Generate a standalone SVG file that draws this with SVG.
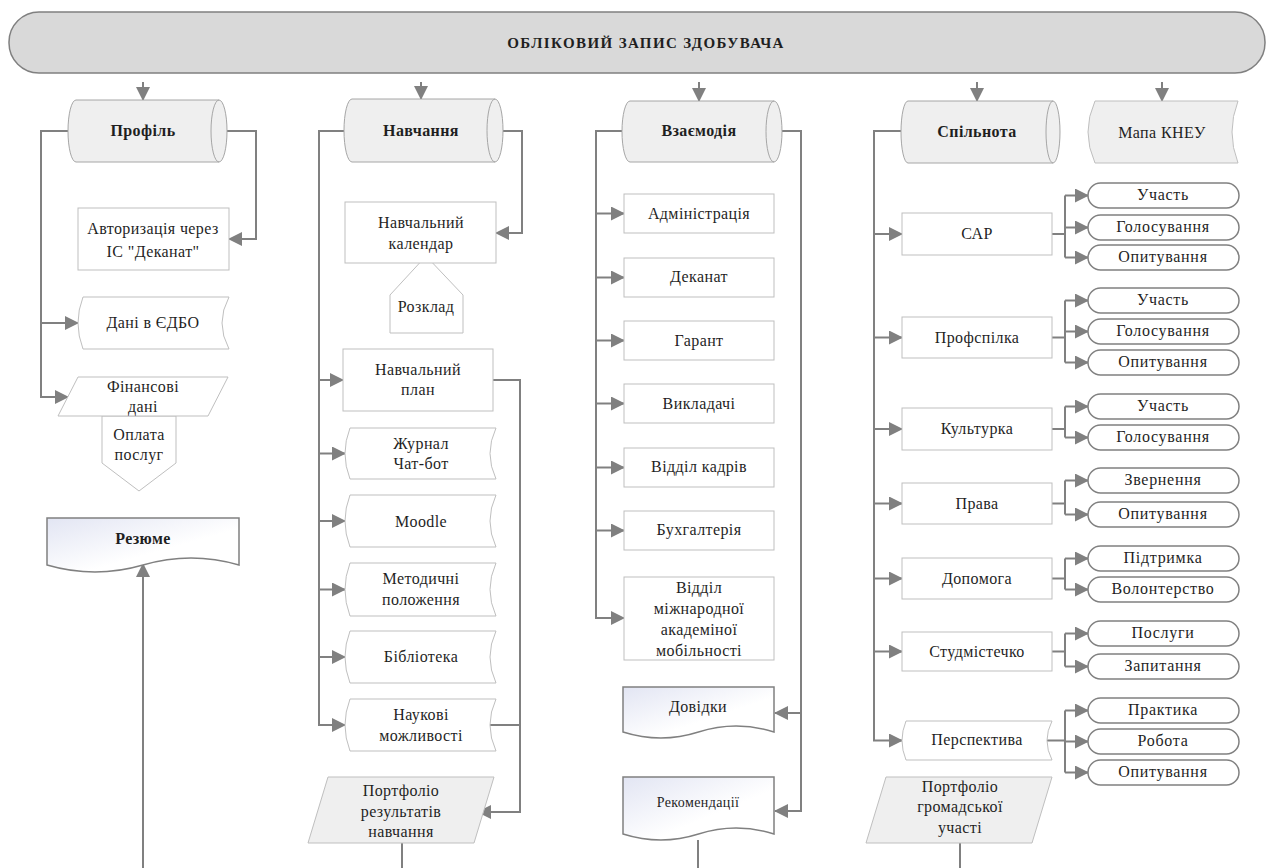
<svg xmlns="http://www.w3.org/2000/svg" width="1268" height="868" viewBox="0 0 1268 868">
<defs>
<marker id="ah" viewBox="0 0 14 14" refX="13" refY="7" markerWidth="14" markerHeight="14" markerUnits="userSpaceOnUse" orient="auto"><path d="M0,0 L14,7 L0,14 Z" fill="#808080"/></marker>
<linearGradient id="g" x1="0" y1="0" x2="1" y2="1"><stop offset="0" stop-color="#e2e5f3"/><stop offset="0.6" stop-color="#ffffff"/></linearGradient>
<style>
.c{fill:none;stroke:#808080;stroke-width:2}
.a{fill:none;stroke:#808080;stroke-width:2;marker-end:url(#ah)}
.box{fill:#fff;stroke:#bfbfbf;stroke-width:1}
.cyl{fill:#efefef;stroke:#a6a6a6;stroke-width:1}
.in{fill:none;stroke:#a6a6a6;stroke-width:1}
.pill{fill:#fff;stroke:#808080;stroke-width:1.5}
.doc{fill:url(#g);stroke:#808080;stroke-width:1.5}
.gr{fill:#efefef;stroke:#bfbfbf;stroke-width:1}
text{font-family:'Liberation Serif','DejaVu Serif',serif}
.t{font-size:16px;fill:#1f1f1f;text-anchor:middle;letter-spacing:0.4px}
.b{font-weight:bold}
.s{font-size:16px;letter-spacing:0.7px}
.r{font-size:14px}
</style>
</defs>

<g id="banner">
<rect x="9" y="12" width="1256" height="61" rx="30" fill="#d9d9d9" stroke="#808080" stroke-width="1.5"/>
<text class="t b" x="646" y="48" font-family="Liberation Serif, serif" style="letter-spacing:1.4px;font-size:15px">ОБЛІКОВИЙ ЗАПИС ЗДОБУВАЧА</text>
</g>

<g id="connectors">
<path class="a" d="M143,82 V100"/>
<path class="a" d="M421,82 V99"/>
<path class="a" d="M699,82 V101"/>
<path class="a" d="M977,82 V101"/>
<path class="a" d="M1162,82 V101"/>
<path class="a" d="M68,131 H41 V397 H68"/>
<path class="a" d="M41,323 H78"/>
<path class="a" d="M218,131 H256 V239 H229"/>
<path class="a" d="M143,868 V564"/>
<path class="a" d="M344,131 H319 V725 H345"/>
<path class="a" d="M319,380 H343"/>
<path class="a" d="M319,453.5 H345"/>
<path class="a" d="M319,521 H345"/>
<path class="a" d="M319,589.5 H345"/>
<path class="a" d="M319,657 H345"/>
<path class="a" d="M495,131 H522 V233 H496"/>
<path class="a" d="M493,380 H520 V812 H478"/>
<path class="c" d="M490,725 H520"/>
<path class="c" d="M402,843 V868"/>
<path class="a" d="M623,131 H596 V618 H624"/>
<path class="a" d="M596,213.5 H624"/>
<path class="a" d="M596,277.5 H624"/>
<path class="a" d="M596,340.5 H624"/>
<path class="a" d="M596,403.5 H624"/>
<path class="a" d="M596,467.5 H624"/>
<path class="a" d="M596,530.5 H624"/>
<path class="a" d="M774,131 H801 V811 H775"/>
<path class="a" d="M801,713 H775"/>
<path class="c" d="M698,840 V868"/>
<path class="a" d="M901,131 H874 V740.5 H902"/>
<path class="a" d="M874,234 H902"/>
<path class="a" d="M874,337.5 H902"/>
<path class="a" d="M874,429 H902"/>
<path class="a" d="M874,503.5 H902"/>
<path class="a" d="M874,578.5 H902"/>
<path class="a" d="M874,651.5 H902"/>
<path class="c" d="M960,843 V868"/>
<path class="c" d="M1052,234 H1065 M1065,195.5 V257.5"/>
<path class="a" d="M1065,195.5 H1088"/><path class="a" d="M1065,227.5 H1088"/><path class="a" d="M1065,257.5 H1088"/>
<path class="c" d="M1052,337.5 H1065 M1065,300.5 V362.5"/>
<path class="a" d="M1065,300.5 H1088"/><path class="a" d="M1065,331.5 H1088"/><path class="a" d="M1065,362.5 H1088"/>
<path class="c" d="M1052,429 H1065 M1065,406.5 V437.5"/>
<path class="a" d="M1065,406.5 H1088"/><path class="a" d="M1065,437.5 H1088"/>
<path class="c" d="M1052,503.5 H1065 M1065,480.5 V514.5"/>
<path class="a" d="M1065,480.5 H1088"/><path class="a" d="M1065,514.5 H1088"/>
<path class="c" d="M1052,578.5 H1065 M1065,558.5 V589.5"/>
<path class="a" d="M1065,558.5 H1088"/><path class="a" d="M1065,589.5 H1088"/>
<path class="c" d="M1052,651.5 H1065 M1065,633.5 V666.5"/>
<path class="a" d="M1065,633.5 H1088"/><path class="a" d="M1065,666.5 H1088"/>
<path class="c" d="M1047,740.5 H1065 M1065,710.5 V772.5"/>
<path class="a" d="M1065,710.5 H1088"/><path class="a" d="M1065,741.5 H1088"/><path class="a" d="M1065,772.5 H1088"/>
</g>

<g id="profil">
<path class="cyl" d="M76,100 H219 A8,31 0 0 1 219,162 H76 A8,31 0 0 1 76,100 Z"/>
<path class="in" d="M219,100 A8,31 0 0 0 219,162"/>
<text class="t b" x="143" y="136">Профіль</text>
</g>
<g id="avtoryzatsiia">
<rect class="box" x="78" y="208" width="151" height="62"/>
<text class="t" x="153" y="234">Авторизація через</text>
<text class="t" x="153" y="257">ІС "Деканат"</text>
</g>
<g id="edbo">
<path class="box" d="M83,297 H229 Q215,323 229,349 H83 Q73,323 83,297 Z"/>
<text class="t" x="153" y="328">Дані в ЄДБО</text>
</g>
<g id="oplata">
<polygon class="box" points="102,416 176,416 176,463 139,491 102,463"/>
<text class="t" x="139" y="440">Оплата</text>
<text class="t" x="139" y="460">послуг</text>
</g>
<g id="finansovi">
<polygon class="box" points="78,377 228,377 208,416 58,416"/>
<text class="t" x="143" y="392">Фінансові</text>
<text class="t" x="143" y="412">дані</text>
</g>
<g id="rezyume">
<path class="doc" d="M47,518 H239 V565 Q191,551 143,565 T47,565 Z"/>
<text class="t b" x="143" y="544">Резюме</text>
</g>

<g id="navchannia">
<path class="cyl" d="M352,99 H495 A8,31.5 0 0 1 495,162 H352 A8,31.5 0 0 1 352,99 Z"/>
<path class="in" d="M495,99 A8,31.5 0 0 0 495,162"/>
<text class="t b" x="421" y="136">Навчання</text>
</g>
<g id="rozklad">
<polygon class="box" points="390,333 390,295 426,256 463,295 463,333"/>
<text class="t" x="426" y="312">Розклад</text>
</g>
<g id="kalendar">
<rect class="box" x="345" y="202" width="151" height="61"/>
<text class="t" x="421" y="228">Навчальний</text>
<text class="t" x="421" y="249">календар</text>
</g>
<g id="plan">
<rect class="box" x="343" y="349" width="150" height="62"/>
<text class="t" x="418" y="375">Навчальний</text>
<text class="t" x="418" y="395">план</text>
</g>
<g id="zhurnal">
<path class="box" d="M350,428 H496 Q484,453.5 496,479 H350 Q340,453.5 350,428 Z"/>
<text class="t" x="421" y="449">Журнал</text>
<text class="t" x="421" y="469">Чат-бот</text>
</g>
<g id="moodle">
<path class="box" d="M350,495 H496 Q484,521 496,547 H350 Q340,521 350,495 Z"/>
<text class="t" x="421" y="527">Moodle</text>
</g>
<g id="metodychni">
<path class="box" d="M350,563 H496 Q484,589.5 496,616 H350 Q340,589.5 350,563 Z"/>
<text class="t" x="421" y="584">Методичні</text>
<text class="t" x="421" y="605">положення</text>
</g>
<g id="biblioteka">
<path class="box" d="M350,631 H496 Q484,657 496,683 H350 Q340,657 350,631 Z"/>
<text class="t" x="421" y="662">Бібліотека</text>
</g>
<g id="naukovi">
<path class="box" d="M350,699 H496 Q484,725 496,751 H350 Q340,725 350,699 Z"/>
<text class="t" x="421" y="720">Наукові</text>
<text class="t" x="421" y="741">можливості</text>
</g>
<g id="portfolio-navch">
<polygon class="gr" points="328,777 494,777 474,843 308,843"/>
<text class="t" x="401" y="796">Портфоліо</text>
<text class="t" x="401" y="817">результатів</text>
<text class="t" x="401" y="837">навчання</text>
</g>

<g id="vzaiemodiia">
<path class="cyl" d="M630,101 H774 A8,30.5 0 0 1 774,162 H630 A8,30.5 0 0 1 630,101 Z"/>
<path class="in" d="M774,101 A8,30.5 0 0 0 774,162"/>
<text class="t b" x="699" y="136">Взаємодія</text>
</g>
<g id="administratsiia"><rect class="box" x="624" y="194" width="150" height="39"/><text class="t" x="699" y="219">Адміністрація</text></g>
<g id="dekanat"><rect class="box" x="624" y="258" width="150" height="39"/><text class="t" x="699" y="282">Деканат</text></g>
<g id="garant"><rect class="box" x="624" y="321" width="150" height="39"/><text class="t" x="699" y="346">Гарант</text></g>
<g id="vykladachi"><rect class="box" x="624" y="384" width="150" height="39"/><text class="t" x="699" y="409">Викладачі</text></g>
<g id="viddil-kadriv"><rect class="box" x="624" y="448" width="150" height="39"/><text class="t" x="699" y="472">Відділ кадрів</text></g>
<g id="bukhgalteriia"><rect class="box" x="624" y="511" width="150" height="39"/><text class="t" x="699" y="535">Бухгалтерія</text></g>
<g id="mobilnist">
<rect class="box" x="624" y="577" width="150" height="83"/>
<text class="t" x="699" y="593">Відділ</text>
<text class="t" x="699" y="614">міжнародної</text>
<text class="t" x="699" y="635">академіної</text>
<text class="t" x="699" y="656">мобільності</text>
</g>
<g id="dovidky">
<path class="doc" d="M623,687 H774 V732 Q736,720 698.5,732 T623,732 Z"/>
<text class="t" x="698" y="712">Довідки</text>
</g>
<g id="rekomendatsii">
<path class="doc" d="M623,777 H774 V834 Q736,822 698.5,834 T623,834 Z"/>
<text class="t r" x="698" y="807">Рекомендації</text>
</g>

<g id="spilnota">
<path class="cyl" d="M908,101 H1053 A7,31 0 0 1 1053,163 H908 A7,31 0 0 1 908,101 Z"/>
<path class="in" d="M1053,101 A7,31 0 0 0 1053,163"/>
<text class="t b" x="977" y="137">Спільнота</text>
</g>
<g id="mapa">
<path class="gr" d="M1095,101 H1238 Q1226,132 1238,163 H1095 Q1081,132 1095,101 Z"/>
<text class="t" x="1162" y="138">Мапа КНЕУ</text>
</g>
<g id="sar"><rect class="box" x="902" y="213" width="150" height="42"/><text class="t" x="977" y="239">САР</text></g>
<g id="profspilka"><rect class="box" x="902" y="317" width="150" height="41"/><text class="t" x="977" y="343">Профспілка</text></g>
<g id="kulturka"><rect class="box" x="902" y="408" width="150" height="42"/><text class="t" x="977" y="434">Культурка</text></g>
<g id="prava"><rect class="box" x="902" y="483" width="150" height="41"/><text class="t" x="977" y="509">Права</text></g>
<g id="dopomoga"><rect class="box" x="902" y="558" width="150" height="41"/><text class="t" x="977" y="584">Допомога</text></g>
<g id="studmistechko"><rect class="box" x="902" y="632" width="150" height="39"/><text class="t" x="977" y="657">Студмістечко</text></g>
<g id="perspektyva">
<path class="box" d="M906,721 H1052 Q1042,740.5 1052,760 H906 Q898,740.5 906,721 Z"/>
<text class="t" x="977" y="745">Перспектива</text>
</g>
<g id="portfolio-gromad">
<polygon class="gr" points="886,777 1052,777 1032,843 866,843"/>
<text class="t" x="960" y="792">Портфоліо</text>
<text class="t" x="960" y="812">громадської</text>
<text class="t" x="960" y="833">участі</text>
</g>

<g id="sar-items">
<rect class="pill" x="1088" y="183" width="151" height="25" rx="12.5"/><text class="t s" x="1163" y="200">Участь</text>
<rect class="pill" x="1088" y="215" width="151" height="25" rx="12.5"/><text class="t s" x="1163" y="232">Голосування</text>
<rect class="pill" x="1088" y="245" width="151" height="25" rx="12.5"/><text class="t s" x="1163" y="262">Опитування</text>
</g>
<g id="profspilka-items">
<rect class="pill" x="1088" y="288" width="151" height="25" rx="12.5"/><text class="t s" x="1163" y="305">Участь</text>
<rect class="pill" x="1088" y="319" width="151" height="25" rx="12.5"/><text class="t s" x="1163" y="336">Голосування</text>
<rect class="pill" x="1088" y="350" width="151" height="25" rx="12.5"/><text class="t s" x="1163" y="367">Опитування</text>
</g>
<g id="kulturka-items">
<rect class="pill" x="1088" y="394" width="151" height="25" rx="12.5"/><text class="t s" x="1163" y="411">Участь</text>
<rect class="pill" x="1088" y="425" width="151" height="25" rx="12.5"/><text class="t s" x="1163" y="442">Голосування</text>
</g>
<g id="prava-items">
<rect class="pill" x="1088" y="468" width="151" height="25" rx="12.5"/><text class="t s" x="1163" y="485">Звернення</text>
<rect class="pill" x="1088" y="502" width="151" height="25" rx="12.5"/><text class="t s" x="1163" y="519">Опитування</text>
</g>
<g id="dopomoga-items">
<rect class="pill" x="1088" y="546" width="151" height="25" rx="12.5"/><text class="t s" x="1163" y="563">Підтримка</text>
<rect class="pill" x="1088" y="577" width="151" height="25" rx="12.5"/><text class="t s" x="1163" y="594">Волонтерство</text>
</g>
<g id="studmistechko-items">
<rect class="pill" x="1088" y="621" width="151" height="25" rx="12.5"/><text class="t s" x="1163" y="638">Послуги</text>
<rect class="pill" x="1088" y="654" width="151" height="25" rx="12.5"/><text class="t s" x="1163" y="671">Запитання</text>
</g>
<g id="perspektyva-items">
<rect class="pill" x="1088" y="698" width="151" height="25" rx="12.5"/><text class="t s" x="1163" y="715">Практика</text>
<rect class="pill" x="1088" y="729" width="151" height="25" rx="12.5"/><text class="t s" x="1163" y="746">Робота</text>
<rect class="pill" x="1088" y="760" width="151" height="25" rx="12.5"/><text class="t s" x="1163" y="777">Опитування</text>
</g>
</svg>
